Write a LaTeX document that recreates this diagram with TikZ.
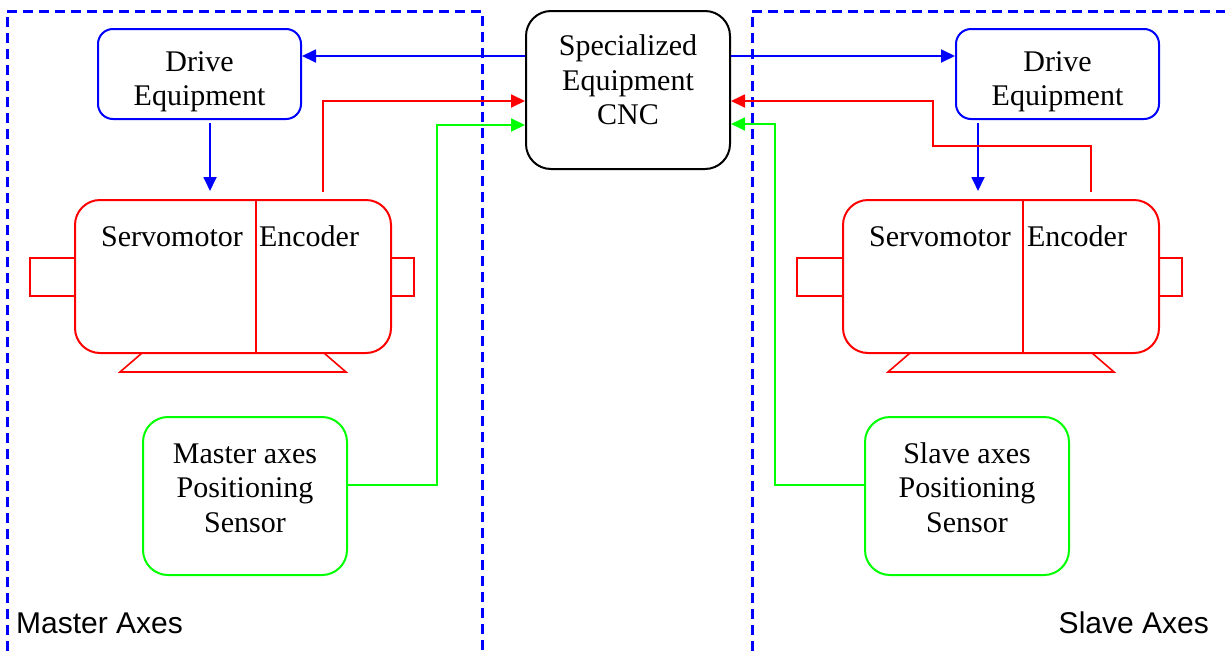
\documentclass[tikz,border=0pt]{standalone}
\usepackage{fontspec}
\setmainfont{Liberation Serif}
\newfontfamily\labelsans{Liberation Sans}
\usetikzlibrary{arrows.meta}
\definecolor{pblue}{RGB}{0,0,255}
\definecolor{pred}{RGB}{255,0,0}
\definecolor{pgreen}{RGB}{0,255,0}
\tikzset{
  box/.style={draw, line width=2pt, rounded corners=#1, inner sep=0pt},
  box/.default=15pt,
  txt/.style={anchor=base, inner sep=0pt, font=\fontsize{30}{34}\selectfont},
  axlabel/.style={inner sep=0pt, font=\labelsans\fontsize{30}{34}\selectfont},
  conn/.style={line width=1.8pt},
  tip/.style={-{Triangle[length=14pt,width=13pt]}},
  region/.style={pblue, line width=3pt, dash pattern=on 10pt off 6pt},
  motor/.style={pred, line width=2pt},
}
\begin{document}
\begin{tikzpicture}[x=1pt,y=-1pt]
\useasboundingbox (0,0) rectangle (1225,651);
% regions
\draw[region] (7,651) -- (7,11) -- (482,11) -- (482,651);
\draw[region] (752,651) -- (752,11) -- (1230,11);
% boxes
\node[box, pblue, minimum width=203pt, minimum height=90pt] (ld) at (199.5,74) {};
\node[box, pblue, minimum width=203pt, minimum height=90pt] (rd) at (1057.5,74) {};
\node[box=25pt, black, minimum width=204pt, minimum height=158pt] (cnc) at (628,90) {};
\node[box=25pt, pgreen, minimum width=204pt, minimum height=158pt] (ms) at (245,496) {};
\node[box=25pt, pgreen, minimum width=204pt, minimum height=158pt] (ss) at (967,496) {};
\node[box=25pt, pred, minimum width=316pt, minimum height=153pt] (mm) at (233,276.5) {};
\node[box=25pt, pred, minimum width=316pt, minimum height=153pt] (sm) at (1001,276.5) {};
% motor details
\draw[motor] (256,200) -- (256,353);
\draw[motor] (1023,200) -- (1023,353);
\draw[motor] (mm.west |- 0,258) -- (30,258) -- (30,296) -- (mm.west |- 0,296);
\draw[motor] (mm.east |- 0,258) -- (414,258) -- (414,296) -- (mm.east |- 0,296);
\draw[motor] (sm.west |- 0,258) -- (797,258) -- (797,296) -- (sm.west |- 0,296);
\draw[motor] (sm.east |- 0,258) -- (1182,258) -- (1182,296) -- (sm.east |- 0,296);
\draw[motor, line width=1.6pt] (142,353) -- (120,372) -- (346,372) -- (324,353);
\draw[motor, line width=1.6pt] (910,353) -- (888,372) -- (1114,372) -- (1092,353);
% texts
\node[txt] (ld1) at (199.5,71) {Drive};
\node[txt] (ld2) at (199.5,105) {Equipment};
\node[txt] (rd1) at (1057.5,71) {Drive};
\node[txt] (rd2) at (1057.5,105) {Equipment};
\node[txt] (c1) at (628,55) {Specialized};
\node[txt] (c2) at (628,90) {Equipment};
\node[txt] (c3) at (628,124) {CNC};
\node[txt] (mm1) at (172,246) {Servomotor};
\node[txt] (mm2) at (309,246) {Encoder};
\node[txt] (sm1) at (940,246) {Servomotor};
\node[txt] (sm2) at (1077,246) {Encoder};
\node[txt] (ms1) at (245,463) {Master axes};
\node[txt] (ms2) at (245,497) {Positioning};
\node[txt] (ms3) at (245,532) {Sensor};
\node[txt] (ss1) at (967,463) {Slave axes};
\node[txt] (ss2) at (967,497) {Positioning};
\node[txt] (ss3) at (967,532) {Sensor};
\node[axlabel, anchor=base west] (mlab) at (16,633) {Master Axes};
\node[axlabel, anchor=base east] (slab) at (1209,633) {Slave Axes};
% connectors
\coordinate (la1) at (210,123);
\coordinate (la2) at (210,191);
\coordinate (ra1) at (978,123);
\coordinate (ra2) at (978,191);
\draw[conn, pblue, tip] (cnc.west |- 0,56) -- (ld.east |- 0,56);
\draw[conn, pblue, tip] (cnc.east |- 0,56) -- (rd.west |- 0,56);
\draw[conn, pblue, tip] (la1) -- (la2);
\draw[conn, pblue, tip] (ra1) -- (ra2);
\coordinate (le) at (323,192);
\coordinate (re) at (1091,192);
\draw[conn, pred, tip] (le) -- (323,101) -- (cnc.west |- 0,101);
\draw[conn, pred, tip] (re) -- (1091,146) -- (933,146) -- (933,101) -- (cnc.east |- 0,101);
\draw[conn, pgreen, tip] (ms.east |- 0,485) -- (437,485) -- (437,125) -- (cnc.west |- 0,125);
\draw[conn, pgreen, tip] (ss.west |- 0,485) -- (775,485) -- (775,124) -- (cnc.east |- 0,124);
\end{tikzpicture}
\end{document}
